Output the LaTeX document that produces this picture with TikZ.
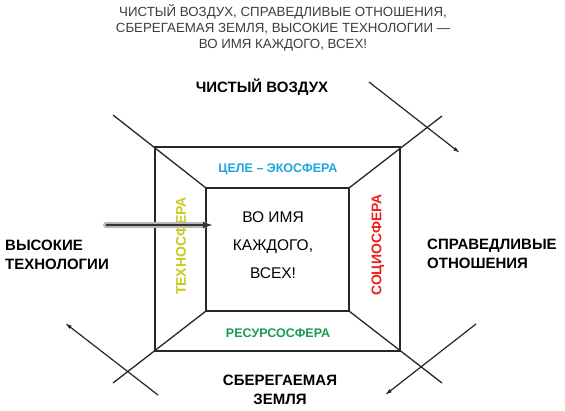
\documentclass[tikz,border=0pt]{standalone}
\usepackage{fontspec}
\setmainfont{Liberation Sans}
\usetikzlibrary{arrows.meta}
\definecolor{ecoblue}{RGB}{28,166,224}
\definecolor{resgreen}{RGB}{26,154,80}
\definecolor{techyellow}{RGB}{200,200,30}
\definecolor{socred}{RGB}{232,34,30}
\definecolor{titlegray}{RGB}{60,60,60}
\tikzset{
	frame/.style={line width=1.3pt, black!85},
	pointer/.style={line width=1.2pt, black!85, -{Latex[length=7pt,width=4pt]}},
	sidelabel/.style={font=\bfseries\fontsize{15}{18.5}\selectfont, inner sep=0pt},
	sphere/.style={font=\bfseries\fontsize{12.5}{15}\selectfont, inner sep=0pt}
}
\begin{document}
\begin{tikzpicture}[x=1pt, y=-1pt]
	\useasboundingbox (0,0) rectangle (565,410);
	\coordinate (otl) at (155,147);
	\coordinate (otr) at (400,147);
	\coordinate (obl) at (155,351);
	\coordinate (obr) at (400,351);
	\coordinate (itl) at (206,188);
	\coordinate (itr) at (349,188);
	\coordinate (ibl) at (206,311);
	\coordinate (ibr) at (349,311);
	\coordinate (etl) at (113,115);
	\coordinate (etr) at (442,116);
	\coordinate (ebl) at (113,383);
	\coordinate (ebr) at (442,383);
	\draw[frame] (otl) rectangle (obr);
	\draw[frame] (itl) rectangle (ibr);
	\draw[frame] (etl) -- (itl);
	\draw[frame] (etr) -- (itr);
	\draw[frame] (ebl) -- (ibl);
	\draw[frame] (ebr) -- (ibr);
	\coordinate (atr0) at (369,82);
	\coordinate (atr1) at (460,153);
	\coordinate (abr0) at (476,324);
	\coordinate (abr1) at (385,395);
	\coordinate (abl0) at (158,395);
	\coordinate (abl1) at (65,323);
	\draw[pointer] (atr0) -- (atr1);
	\draw[pointer] (abr0) -- (abr1);
	\draw[pointer] (abl0) -- (abl1);
	\node[font=\fontsize{13.3}{16}\selectfont, text=titlegray, align=center, inner sep=0pt] (title) at (283,28) {ЧИСТЫЙ ВОЗДУХ, СПРАВЕДЛИВЫЕ ОТНОШЕНИЯ,\\СБЕРЕГАЕМАЯ ЗЕМЛЯ, ВЫСОКИЕ ТЕХНОЛОГИИ —\\ВО ИМЯ КАЖДОГО, ВСЕХ!};
	\node[sidelabel] (air) at (262,87) {ЧИСТЫЙ ВОЗДУХ};
	\node[sidelabel, anchor=west, align=left] (tech) at (5,255) {ВЫСОКИЕ\\ТЕХНОЛОГИИ};
	\node[sidelabel, anchor=west, align=left] (fair) at (427,254) {СПРАВЕДЛИВЫЕ\\ОТНОШЕНИЯ};
	\node[sidelabel, align=center] (land) at (280,390) {СБЕРЕГАЕМАЯ\\ЗЕМЛЯ};
	\node[font=\fontsize{15.5}{28}\selectfont, align=center, inner sep=0pt] (all) at (273,245) {ВО ИМЯ\\КАЖДОГО,\\ВСЕХ!};
	\node[sphere, text=ecoblue] (eco) at (278,169) {ЦЕЛЕ – ЭКОСФЕРА};
	\node[sphere, text=resgreen] (res) at (278,333) {РЕСУРСОСФЕРА};
	\node[sphere, font=\bfseries\fontsize{14}{16}\selectfont, text=techyellow, rotate=90] (techno) at (181,246) {ТЕХНОСФЕРА};
	\node[sphere, font=\bfseries\fontsize{14}{16}\selectfont, text=socred, rotate=90] (socio) at (378,245) {СОЦИОСФЕРА};
	\coordinate (push0) at (106,225);
	\coordinate (push1) at (213,225);
	\draw[line width=6pt, black!28, line cap=round] (push0) -- ([xshift=-8pt]push1);
	\draw[line width=1.6pt, black!80, -{Latex[length=10pt,width=7pt]}] (push0) -- (push1);
\end{tikzpicture}
\end{document}
